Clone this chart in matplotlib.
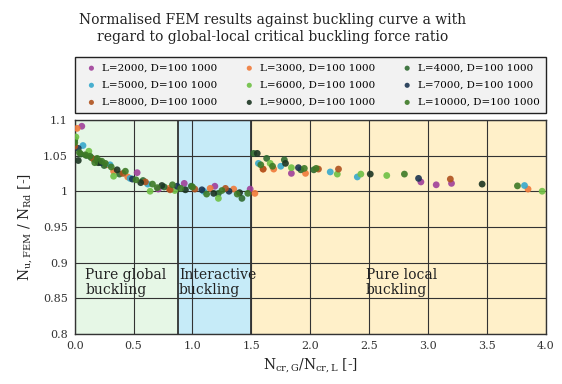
import numpy as np
import matplotlib.pyplot as plt

plt.rcParams['font.family'] = 'DejaVu Serif'
plt.rcParams['mathtext.fontset'] = 'dejavuserif'

# series: x = Ncr,G/Ncr,L, y = Nu,FEM/NRd
l2000_x = [0.06, 0.53, 0.71, 0.93, 1.19, 1.49, 1.84, 2.94, 3.07, 3.20]
l2000_y = [1.091, 1.026, 1.003, 1.011, 1.007, 1.003, 1.025, 1.013, 1.009, 1.011]

l3000_x = [0.02, 0.27, 0.33, 0.45, 0.80, 1.15, 1.35, 1.53, 1.60, 1.69, 1.96, 3.85]
l3000_y = [1.088, 1.037, 1.028, 1.020, 1.004, 1.004, 1.003, 0.997, 1.031, 1.031, 1.025, 1.003]

l4000_x = [0.00, 0.05, 0.10, 0.14, 0.18, 0.21, 0.25, 0.38, 0.58, 0.76, 0.99, 1.22, 1.42, 1.52, 1.63, 1.78, 1.92, 2.03]
l4000_y = [1.072, 1.052, 1.050, 1.047, 1.044, 1.042, 1.036, 1.024, 1.015, 1.006, 1.007, 0.997, 0.990, 1.053, 1.046, 1.044, 1.030, 1.030]

l5000_x = [0.07, 0.30, 0.47, 0.62, 1.095, 1.56, 1.75, 2.17, 2.40, 3.82]
l5000_y = [1.064, 1.037, 1.018, 1.010, 1.000, 1.039, 1.035, 1.027, 1.020, 1.008]

l6000_x = [0.01, 0.12, 0.33, 0.64, 0.85, 1.22, 1.66, 1.84, 2.23, 2.43, 2.65, 3.97]
l6000_y = [1.076, 1.056, 1.021, 1.000, 1.001, 0.990, 1.039, 1.033, 1.024, 1.024, 1.022, 1.000]

l7000_x = [0.03, 0.22, 0.49, 0.87, 1.08, 1.31, 1.90, 2.92]
l7000_y = [1.060, 1.040, 1.017, 1.007, 1.002, 1.000, 1.033, 1.018]

l8000_x = [0.00, 0.16, 0.41, 0.60, 0.81, 1.02, 1.28, 1.60, 2.07, 2.24, 3.19]
l8000_y = [1.063, 1.045, 1.025, 1.013, 1.002, 1.003, 1.004, 1.031, 1.031, 1.031, 1.017]

l9000_x = [0.03, 0.20, 0.36, 0.56, 0.74, 0.94, 1.18, 1.40, 1.55, 1.79, 2.51, 3.46]
l9000_y = [1.043, 1.040, 1.030, 1.012, 1.008, 1.002, 0.997, 0.998, 1.053, 1.039, 1.024, 1.010]

l10000_x = [0.00, 0.04, 0.09, 0.13, 0.17, 0.19, 0.23, 0.26, 0.31, 0.43, 0.52, 0.66, 0.70, 0.83, 0.90,
            1.00, 1.12, 1.25, 1.38, 1.47, 1.58, 1.68, 1.95, 2.05, 2.80, 3.76]
l10000_y = [1.068, 1.054, 1.051, 1.049, 1.040, 1.046, 1.042, 1.039, 1.034, 1.028, 1.016, 1.010, 1.005, 1.009, 1.004,
            1.006, 0.996, 1.001, 0.996, 0.997, 1.037, 1.035, 1.032, 1.032, 1.024, 1.0075]

labels = ["L=2000, D=100 1000", "L=3000, D=100 1000", "L=4000, D=100 1000",
          "L=5000, D=100 1000", "L=6000, D=100 1000", "L=7000, D=100 1000",
          "L=8000, D=100 1000", "L=9000, D=100 1000", "L=10000, D=100 1000"]
colors = ["#a0409a", "#f07a3a", "#2f6a30", "#36a8cc", "#6ec044",
          "#1b3450", "#b0521e", "#1c3522", "#3d7a26"]
series = [(l2000_x, l2000_y), (l3000_x, l3000_y), (l4000_x, l4000_y),
          (l5000_x, l5000_y), (l6000_x, l6000_y), (l7000_x, l7000_y),
          (l8000_x, l8000_y), (l9000_x, l9000_y), (l10000_x, l10000_y)]

# zone limits
g_end = 0.88
i_end = 1.5

fig = plt.figure(figsize=(5.62, 3.84), dpi=100)
ax = fig.add_axes([0.133, 0.130, 0.838, 0.558])

ax.axvspan(0, g_end, color="#e6f7e6", zorder=0)
ax.axvspan(g_end, i_end, color="#c6ebf8", zorder=0)
ax.axvspan(i_end, 4.0, color="#fff0c9", zorder=0)

ax.set_xlim(0, 4.0)
ax.set_ylim(0.8, 1.1)
ax.set_xticks(np.arange(0, 4.01, 0.5))
ax.set_xticklabels([f"{v:.1f}" for v in np.arange(0, 4.01, 0.5)])
yt = [0.8, 0.85, 0.9, 0.95, 1.0, 1.05, 1.1]
ax.set_yticks(yt)
ax.set_yticklabels(["0.8", "0.85", "0.9", "0.95", "1", "1.05", "1.1"])
ax.grid(True, color="#333333", lw=0.8, zorder=1)
ax.axvline(g_end, color="#222222", lw=1.2, zorder=1)
ax.axvline(i_end, color="#222222", lw=1.2, zorder=1)
ax.tick_params(length=0, labelsize=8, pad=5, colors="#333333")
for s in ax.spines.values():
    s.set_color("#333333")
    s.set_linewidth(1.0)

handles = []
for (xs, ys), c, lab in zip(series, colors, labels):
    h = ax.scatter(xs, ys, s=24, color=c, edgecolors="none", alpha=0.9, label=lab, zorder=3)
    handles.append(h)

ax.text(0.09, 0.872, "Pure global\nbuckling", fontsize=10, va="center", color="#222222", linespacing=1.1)
ax.text(0.885, 0.872, "Interactive\nbuckling", fontsize=10, va="center", color="#222222", linespacing=1.1)
ax.text(2.47, 0.872, "Pure local\nbuckling", fontsize=10, va="center", color="#222222", linespacing=1.1)

ax.set_xlabel(r"$\mathrm{N_{cr,G}/N_{cr,L}}$ [-]", fontsize=10, color="#222222", labelpad=4)
ax.set_ylabel(r"$\mathrm{N_{u,FEM}}$ / $\mathrm{N_{Rd}}$ [-]", fontsize=10, color="#222222", labelpad=6)

# legend filled row by row
order = [0, 3, 6, 1, 4, 7, 2, 5, 8]
leg = ax.legend([handles[i] for i in order], [labels[i] for i in order],
                ncol=3, loc="lower left", bbox_to_anchor=(0, 1.03, 1, 0.2), mode="expand",
                fontsize=7.5, frameon=True, fancybox=False, markerscale=0.75,
                handletextpad=0.0, borderpad=0.6, labelspacing=0.75, handlelength=2.0,
                borderaxespad=0)
leg.get_frame().set_facecolor("#f2f2f2")
leg.get_frame().set_edgecolor("#222222")
leg.get_frame().set_linewidth(1.0)
leg.get_frame().set_alpha(1)

fig.suptitle("Normalised FEM results against buckling curve a with\nregard to global-local critical buckling force ratio",
             x=0.485, y=0.965, fontsize=10, color="#222222", linespacing=1.25)

fig.savefig("out.png", dpi=100)
